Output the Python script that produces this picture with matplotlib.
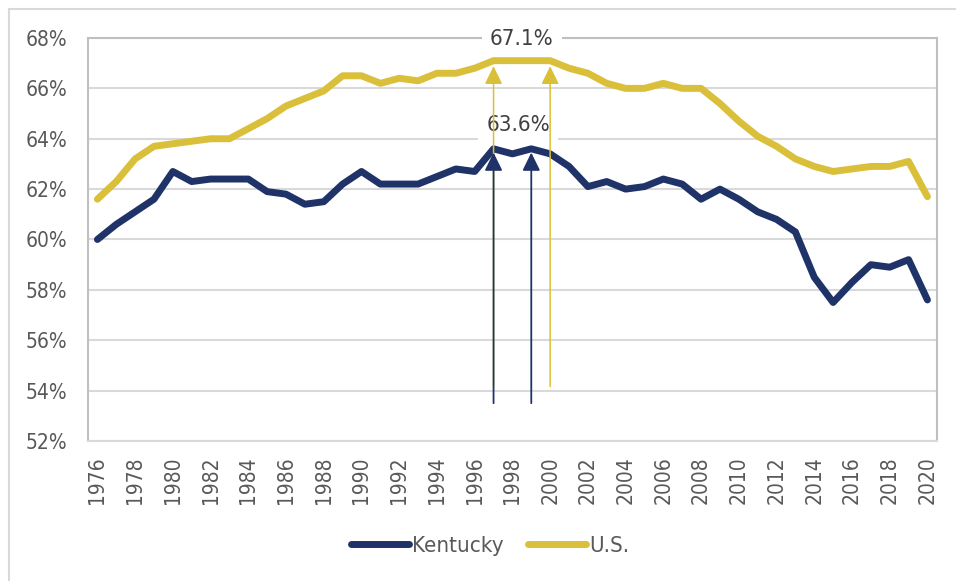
import matplotlib.pyplot as plt
from matplotlib.patches import Rectangle
from matplotlib.ticker import FuncFormatter

years = list(range(1976, 2021))
kentucky = [60.0, 60.6, 61.1, 61.6, 62.7, 62.3, 62.4, 62.4, 62.4, 61.9,
            61.8, 61.4, 61.5, 62.2, 62.7, 62.2, 62.2, 62.2, 62.5, 62.8,
            62.7, 63.6, 63.4, 63.6, 63.4, 62.9, 62.1, 62.3, 62.0, 62.1,
            62.4, 62.2, 61.6, 62.0, 61.6, 61.1, 60.8, 60.3, 58.5, 57.5,
            58.3, 59.0, 58.9, 59.2, 57.6]
us = [61.6, 62.3, 63.2, 63.7, 63.8, 63.9, 64.0, 64.0, 64.4, 64.8,
      65.3, 65.6, 65.9, 66.5, 66.5, 66.2, 66.4, 66.3, 66.6, 66.6,
      66.8, 67.1, 67.1, 67.1, 67.1, 66.8, 66.6, 66.2, 66.0, 66.0,
      66.2, 66.0, 66.0, 65.4, 64.7, 64.1, 63.7, 63.2, 62.9, 62.7,
      62.8, 62.9, 62.9, 63.1, 61.7]

# peak years marked with arrows
ky_peak_years = [1997, 1999]
us_peak_years = [1997, 2000]
ky_peak = 63.6
us_peak = 67.1

NAVY = '#1f3368'
GOLD = '#dac03a'
GREY_TEXT = '#595959'

plt.rcParams['font.family'] = ['DejaVu Sans']
plt.rcParams['font.stretch'] = 'condensed'

fig = plt.figure(figsize=(9.56, 5.81), dpi=100)
ax = fig.add_axes([0.092, 0.241, 0.888, 0.6936])

ax.plot(years, kentucky, color=NAVY, lw=5, solid_capstyle='round',
        solid_joinstyle='round', label='Kentucky', zorder=3)
ax.plot(years, us, color=GOLD, lw=5, solid_capstyle='round',
        solid_joinstyle='round', label='U.S.', zorder=3)

arrow_style = '-|>,head_length=0.55,head_width=0.27'
for yr in us_peak_years:
    ax.annotate('', xy=(yr, us_peak - 0.22), xytext=(yr, 54.16),
                arrowprops=dict(arrowstyle=arrow_style, color=GOLD, lw=1.1,
                                mutation_scale=20, shrinkA=0, shrinkB=0),
                zorder=4)
for yr in ky_peak_years:
    ax.annotate('', xy=(yr, ky_peak - 0.15), xytext=(yr, 53.5),
                arrowprops=dict(arrowstyle=arrow_style, color=NAVY, lw=1.3,
                                mutation_scale=20, shrinkA=0, shrinkB=0),
                zorder=5)

# data labels sit on a white box that breaks the gridlines/frame
label_box = dict(facecolor='white', edgecolor='none', pad=6)
ax.text(1998.5, 67.95, f'{us_peak:.1f}%', ha='center', va='center',
        fontsize=16, color='#404040', bbox=label_box, zorder=2.6)
ax.text(1998.3, 64.55, f'{ky_peak:.1f}%', ha='center', va='center',
        fontsize=16, color='#404040', bbox=label_box, zorder=2.6)

ax.set_xlim(1975.5, 2020.5)
ax.set_ylim(52, 68)
ax.set_xticks(range(1976, 2021, 2))
ax.set_yticks(range(52, 69, 2))
ax.yaxis.set_major_formatter(FuncFormatter(lambda v, p: f'{v:.0f}%'))
ax.tick_params(axis='x', length=0, pad=11, rotation=90, labelsize=15,
               labelcolor=GREY_TEXT)
ax.tick_params(axis='y', length=0, pad=15, labelsize=15, labelcolor=GREY_TEXT)

ax.grid(axis='y', color='#d9d9d9', lw=1.5, zorder=0)
ax.set_axisbelow(True)
for side in ['left', 'right', 'top']:
    ax.spines[side].set_color('#bfbfbf')
    ax.spines[side].set_linewidth(1.5)
ax.spines['bottom'].set_color('#d9d9d9')
ax.spines['bottom'].set_linewidth(1.5)

fig.legend(loc='center', bbox_to_anchor=(0.5126, 0.060), ncol=2,
           frameon=False, fontsize=16, handlelength=2.6, handletextpad=0.15,
           columnspacing=1.1, labelcolor=GREY_TEXT)

# outer chart frame (runs off the right and bottom edges)
fig.add_artist(Rectangle((9 / 956, -0.1), 1.2, 1 - 9 / 581 + 0.1,
                         transform=fig.transFigure, fill=False,
                         edgecolor='#d9d9d9', lw=1.5))

fig.savefig('out.png', dpi=100)
